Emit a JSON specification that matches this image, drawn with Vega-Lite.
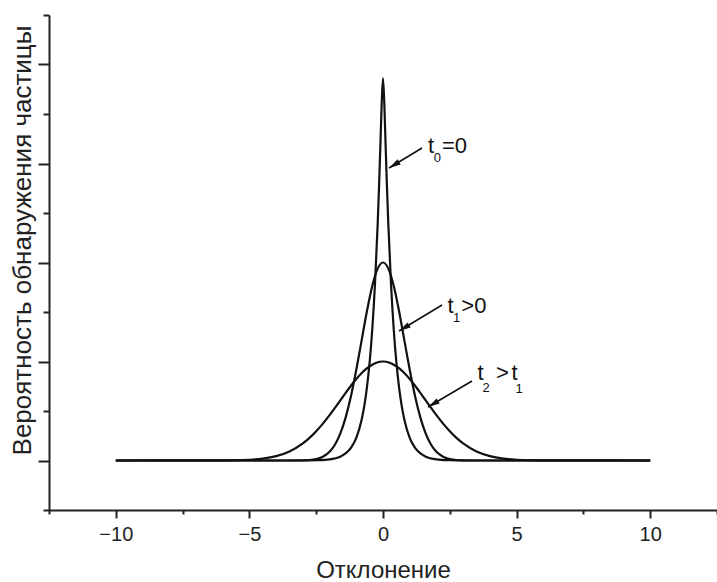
{
  "$schema": "https://vega.github.io/schema/vega-lite/v6.json",
  "width": 668,
  "height": 495,
  "autosize": "none",
  "padding": {"left": 49, "top": 15, "right": 0, "bottom": 72},
  "background": "white",
  "config": {"view": {"stroke": null}, "font": "Liberation Sans"},
  "layer": [
    {
      "data": {"values": [
        {"s":"t2","x":-10,"y":0},{"s":"t2","x":-6,"y":0.0009},{"s":"t2","x":-5,"y":0.0076},{"s":"t2","x":-4.5,"y":0.019},{"s":"t2","x":-4,"y":0.044},{"s":"t2","x":-3.5,"y":0.091},{"s":"t2","x":-3,"y":0.172},{"s":"t2","x":-2.75,"y":0.228},{"s":"t2","x":-2.5,"y":0.295},{"s":"t2","x":-2.25,"y":0.372},{"s":"t2","x":-2,"y":0.458},{"s":"t2","x":-1.75,"y":0.55},{"s":"t2","x":-1.5,"y":0.644},{"s":"t2","x":-1.25,"y":0.737},{"s":"t2","x":-1,"y":0.823},{"s":"t2","x":-0.75,"y":0.896},{"s":"t2","x":-0.5,"y":0.952},{"s":"t2","x":-0.25,"y":0.988},{"s":"t2","x":0,"y":1},
        {"s":"t2","x":0.25,"y":0.988},{"s":"t2","x":0.5,"y":0.952},{"s":"t2","x":0.75,"y":0.896},{"s":"t2","x":1,"y":0.823},{"s":"t2","x":1.25,"y":0.737},{"s":"t2","x":1.5,"y":0.644},{"s":"t2","x":1.75,"y":0.55},{"s":"t2","x":2,"y":0.458},{"s":"t2","x":2.25,"y":0.372},{"s":"t2","x":2.5,"y":0.295},{"s":"t2","x":2.75,"y":0.228},{"s":"t2","x":3,"y":0.172},{"s":"t2","x":3.5,"y":0.091},{"s":"t2","x":4,"y":0.044},{"s":"t2","x":4.5,"y":0.019},{"s":"t2","x":5,"y":0.0076},{"s":"t2","x":6,"y":0.0009},{"s":"t2","x":10,"y":0},
        {"s":"t1","x":-10,"y":0},{"s":"t1","x":-4,"y":0},{"s":"t1","x":-3,"y":0.002},{"s":"t1","x":-2.5,"y":0.015},{"s":"t1","x":-2.25,"y":0.038},{"s":"t1","x":-2,"y":0.088},{"s":"t1","x":-1.8,"y":0.159},{"s":"t1","x":-1.6,"y":0.271},{"s":"t1","x":-1.4,"y":0.433},{"s":"t1","x":-1.2,"y":0.649},{"s":"t1","x":-1,"y":0.916},{"s":"t1","x":-0.8,"y":1.213},{"s":"t1","x":-0.6,"y":1.51},{"s":"t1","x":-0.4,"y":1.765},{"s":"t1","x":-0.2,"y":1.938},{"s":"t1","x":0,"y":2},
        {"s":"t1","x":0.2,"y":1.938},{"s":"t1","x":0.4,"y":1.765},{"s":"t1","x":0.6,"y":1.51},{"s":"t1","x":0.8,"y":1.213},{"s":"t1","x":1,"y":0.916},{"s":"t1","x":1.2,"y":0.649},{"s":"t1","x":1.4,"y":0.433},{"s":"t1","x":1.6,"y":0.271},{"s":"t1","x":1.8,"y":0.159},{"s":"t1","x":2,"y":0.088},{"s":"t1","x":2.25,"y":0.038},{"s":"t1","x":2.5,"y":0.015},{"s":"t1","x":3,"y":0.002},{"s":"t1","x":4,"y":0},{"s":"t1","x":10,"y":0},
        {"s":"t0","x":-10,"y":0},{"s":"t0","x":-3,"y":0},{"s":"t0","x":-2.5,"y":0.003},{"s":"t0","x":-2,"y":0.012},{"s":"t0","x":-1.6,"y":0.039},{"s":"t0","x":-1.4,"y":0.071},{"s":"t0","x":-1.2,"y":0.127},{"s":"t0","x":-1,"y":0.229},{"s":"t0","x":-0.8,"y":0.412},{"s":"t0","x":-0.7,"y":0.552},{"s":"t0","x":-0.6,"y":0.741},{"s":"t0","x":-0.5,"y":0.993},{"s":"t0","x":-0.4,"y":1.331},{"s":"t0","x":-0.3,"y":1.783},{"s":"t0","x":-0.2,"y":2.383},{"s":"t0","x":-0.15,"y":2.751},{"s":"t0","x":-0.1,"y":3.163},{"s":"t0","x":-0.05,"y":3.598},{"s":"t0","x":0,"y":3.86},
        {"s":"t0","x":0.05,"y":3.598},{"s":"t0","x":0.1,"y":3.163},{"s":"t0","x":0.15,"y":2.751},{"s":"t0","x":0.2,"y":2.383},{"s":"t0","x":0.3,"y":1.783},{"s":"t0","x":0.4,"y":1.331},{"s":"t0","x":0.5,"y":0.993},{"s":"t0","x":0.6,"y":0.741},{"s":"t0","x":0.7,"y":0.552},{"s":"t0","x":0.8,"y":0.412},{"s":"t0","x":1,"y":0.229},{"s":"t0","x":1.2,"y":0.127},{"s":"t0","x":1.4,"y":0.071},{"s":"t0","x":1.6,"y":0.039},{"s":"t0","x":2,"y":0.012},{"s":"t0","x":2.5,"y":0.003},{"s":"t0","x":3,"y":0},{"s":"t0","x":10,"y":0}
      ]},
      "mark": {"type": "line", "color": "#111", "strokeWidth": 2.2, "interpolate": "monotone"},
      "encoding": {
        "x": {
          "field": "x", "type": "quantitative",
          "scale": {"domain": [-12.5, 12.5], "nice": false, "zero": false},
          "axis": {
            "values": [-12.5, -10, -7.5, -5, -2.5, 0, 2.5, 5, 7.5, 10, 12.5],
            "labelExpr": "datum.value % 5 === 0 ? datum.label : ''",
            "tickSize": {"condition": {"test": "datum.value % 5 === 0", "value": 8}, "value": 4},
            "tickWidth": 2, "tickColor": "#222",
            "domainColor": "#222", "domainWidth": 2,
            "grid": false, "labelOverlap": false, "labelFlush": false,
            "labelFontSize": 20, "labelColor": "#222", "labelPadding": 6,
            "title": "Отклонение", "titleFontSize": 24, "titleFontWeight": "normal", "titleColor": "#222",
            "titleX": 334, "titleY": 67, "titleBaseline": "alphabetic", "titleAlign": "center"
          }
        },
        "y": {
          "field": "y", "type": "quantitative",
          "scale": {"domain": [-0.5, 4.5], "nice": false, "zero": false},
          "axis": {
            "values": [-0.5, 0, 0.5, 1, 1.5, 2, 2.5, 3, 3.5, 4, 4.5],
            "labels": false,
            "tickSize": {"condition": {"test": "datum.value % 1 === 0", "value": 11}, "value": 6},
            "tickWidth": 2, "tickColor": "#222",
            "domainColor": "#222", "domainWidth": 2,
            "grid": false,
            "title": "Вероятность обнаружения частицы", "titleFontSize": 26, "titleFontWeight": "normal", "titleColor": "#222",
            "titleAngle": -90, "titleX": -19, "titleY": 225, "titleBaseline": "alphabetic", "titleAlign": "center"
          }
        },
        "detail": {"field": "s"}
      }
    },
    {
      "data": {"values": [
        {"x": 1.46, "y": 3.157, "x2": 0.225, "y2": 2.955},
        {"x": 2.208, "y": 1.571, "x2": 0.599, "y2": 1.308},
        {"x": 3.331, "y": 0.803, "x2": 1.684, "y2": 0.54}
      ]},
      "mark": {"type": "rule", "color": "#111", "strokeWidth": 1.6},
      "encoding": {
        "x": {"field": "x", "type": "quantitative"},
        "y": {"field": "y", "type": "quantitative"},
        "x2": {"field": "x2"},
        "y2": {"field": "y2"}
      }
    },
    {
      "data": {"values": [
        {"x": 0.225, "y": 2.955},
        {"x": 0.599, "y": 1.308},
        {"x": 1.684, "y": 0.54}
      ]},
      "mark": {"type": "point", "shape": "M0,0L0.5,2L-0.5,2Z", "filled": true, "color": "#111", "opacity": 1, "size": 140, "angle": 239},
      "encoding": {
        "x": {"field": "x", "type": "quantitative"},
        "y": {"field": "y", "type": "quantitative"}
      }
    },
    {
      "data": {"values": [
        {"x": 1.684, "y": 3.106, "text": "t"},
        {"x": 2.208, "y": 3.106, "text": "=0"},
        {"x": 2.414, "y": 1.49, "text": "t"},
        {"x": 2.93, "y": 1.49, "text": ">0"},
        {"x": 3.537, "y": 0.813, "text": "t"},
        {"x": 4.229, "y": 0.813, "text": ">"},
        {"x": 4.809, "y": 0.813, "text": "t"}
      ]},
      "mark": {"type": "text", "align": "left", "baseline": "alphabetic", "fontSize": 22, "color": "#111"},
      "encoding": {
        "x": {"field": "x", "type": "quantitative"},
        "y": {"field": "y", "type": "quantitative"},
        "text": {"field": "text"}
      }
    },
    {
      "data": {"values": [
        {"x": 1.9, "y": 3.015, "text": "0"},
        {"x": 2.62, "y": 1.399, "text": "1"},
        {"x": 3.72, "y": 0.692, "text": "2"},
        {"x": 4.96, "y": 0.682, "text": "1"}
      ]},
      "mark": {"type": "text", "align": "left", "baseline": "alphabetic", "fontSize": 13, "color": "#111"},
      "encoding": {
        "x": {"field": "x", "type": "quantitative"},
        "y": {"field": "y", "type": "quantitative"},
        "text": {"field": "text"}
      }
    }
  ]
}
